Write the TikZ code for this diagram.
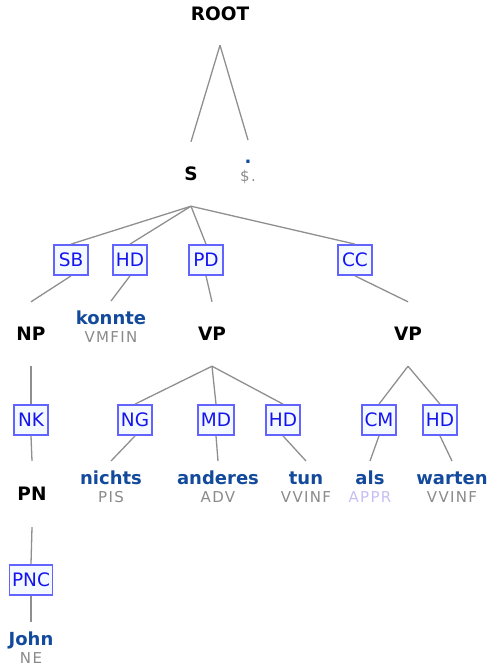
\documentclass[tikz,border=0pt]{standalone}
\usepackage{fontspec}
\setmainfont{DejaVu Sans}
\newfontfamily\tagfont[LetterSpace=9]{DejaVu Sans}
\definecolor{wordblue}{HTML}{144A9C}
\definecolor{taggray}{HTML}{8A8A8A}
\definecolor{edgegray}{HTML}{8F8F8F}
\definecolor{lblblue}{HTML}{1414EE}
\definecolor{boxblue}{HTML}{6363FF}
\definecolor{boxfill}{HTML}{F3F9FF}
\definecolor{apprcol}{HTML}{C6BEF2}
\tikzset{
  phrase/.style={font=\fontsize{18.5}{20}\selectfont\bfseries, text=black, inner sep=0pt, text height=13pt, text depth=0pt},
  word/.style={font=\fontsize{18}{20}\selectfont\bfseries, text=wordblue, inner xsep=0pt, inner ysep=9.5pt, text height=13.5pt, text depth=4pt, anchor=north},
  postag/.style={font=\tagfont\fontsize{15}{17}\selectfont, text=taggray, anchor=base, inner sep=0pt},
  edgelbl/.style={draw=boxblue, fill=boxfill, line width=1.8pt, text=lblblue, font=\fontsize{18.5}{20}\selectfont, minimum width=34pt, minimum height=30pt, inner xsep=2.5pt, inner ysep=0pt},
  branch/.style={draw=edgegray, line width=1.3pt}
}
\begin{document}
\begin{tikzpicture}[x=1pt,y=-1pt]
\useasboundingbox (0,0) rectangle (488,667);
% phrase nodes
\node[phrase, minimum height=62pt] (root) at (220,14) {ROOT};
\node[phrase, minimum height=64pt] (s) at (191,174) {S};
\node[phrase, minimum height=64pt] (np) at (31,334) {NP};
\node[phrase, minimum height=64pt] (vp1) at (212,334) {VP};
\node[phrase, minimum height=64pt] (vp2) at (408,334) {VP};
\node[phrase, minimum height=66pt] (pn) at (32,494) {PN};
% words
\node[word] (dot) at (248,140) {.};
\node[postag] (tdot) at ([yshift=-18.5pt]dot.base) {\$.};
\node[word] (konnte) at (111,301) {konnte};
\node[postag] (tkonnte) at ([yshift=-18.5pt]konnte.base) {VMFIN};
\node[word] (nichts) at (111,461) {nichts};
\node[postag] (tnichts) at ([yshift=-18.5pt]nichts.base) {PIS};
\node[word] (anderes) at (218,461) {anderes};
\node[postag] (tanderes) at ([yshift=-18.5pt]anderes.base) {ADV};
\node[word] (tun) at (306,461) {tun};
\node[postag] (ttun) at ([yshift=-18.5pt]tun.base) {VVINF};
\node[word] (als) at (370,461) {als};
\node[postag, text=apprcol] (tals) at ([yshift=-18.5pt]als.base) {APPR};
\node[word] (warten) at (452,461) {warten};
\node[postag] (twarten) at ([yshift=-18.5pt]warten.base) {VVINF};
\node[word] (john) at (31,622) {John};
\node[postag] (tjohn) at ([yshift=-18.5pt]john.base) {NE};
% edge labels
\node[edgelbl] (sb) at (71,260) {SB};
\node[edgelbl] (hd1) at (130,260) {HD};
\node[edgelbl] (pd) at (206,260) {PD};
\node[edgelbl] (cc) at (355,260) {CC};
\node[edgelbl] (nk) at (31,420) {NK};
\node[edgelbl] (ng) at (135,420) {NG};
\node[edgelbl] (md) at (216,420) {MD};
\node[edgelbl] (hd2) at (283,420) {HD};
\node[edgelbl] (cm) at (379,420) {CM};
\node[edgelbl] (hd3) at (440,420) {HD};
\node[edgelbl] (pnc) at (31,580) {PNC};
% branches
\draw[branch] (root.south) -- (s.north);
\draw[branch] (root.south) -- (dot.north);
\draw[branch] (s.south) -- (sb.north);
\draw[branch] (s.south) -- (hd1.north);
\draw[branch] (s.south) -- (pd.north);
\draw[branch] (s.south) -- (cc.north);
\draw[branch] (sb.south) -- (np.north);
\draw[branch] (hd1.south) -- (konnte.north);
\draw[branch] (pd.south) -- (vp1.north);
\draw[branch] (cc.south) -- (vp2.north);
\draw[branch] (np.south) -- (nk.north);
\draw[branch] (nk.south) -- (pn.north);
\draw[branch] (pn.south) -- (pnc.north);
\draw[branch] (pnc.south) -- (john.north);
\draw[branch] (vp1.south) -- (ng.north);
\draw[branch] (vp1.south) -- (md.north);
\draw[branch] (vp1.south) -- (hd2.north);
\draw[branch] (ng.south) -- (nichts.north);
\draw[branch] (md.south) -- (anderes.north);
\draw[branch] (hd2.south) -- (tun.north);
\draw[branch] (vp2.south) -- (cm.north);
\draw[branch] (vp2.south) -- (hd3.north);
\draw[branch] (cm.south) -- (als.north);
\draw[branch] (hd3.south) -- (warten.north);
\end{tikzpicture}
\end{document}
